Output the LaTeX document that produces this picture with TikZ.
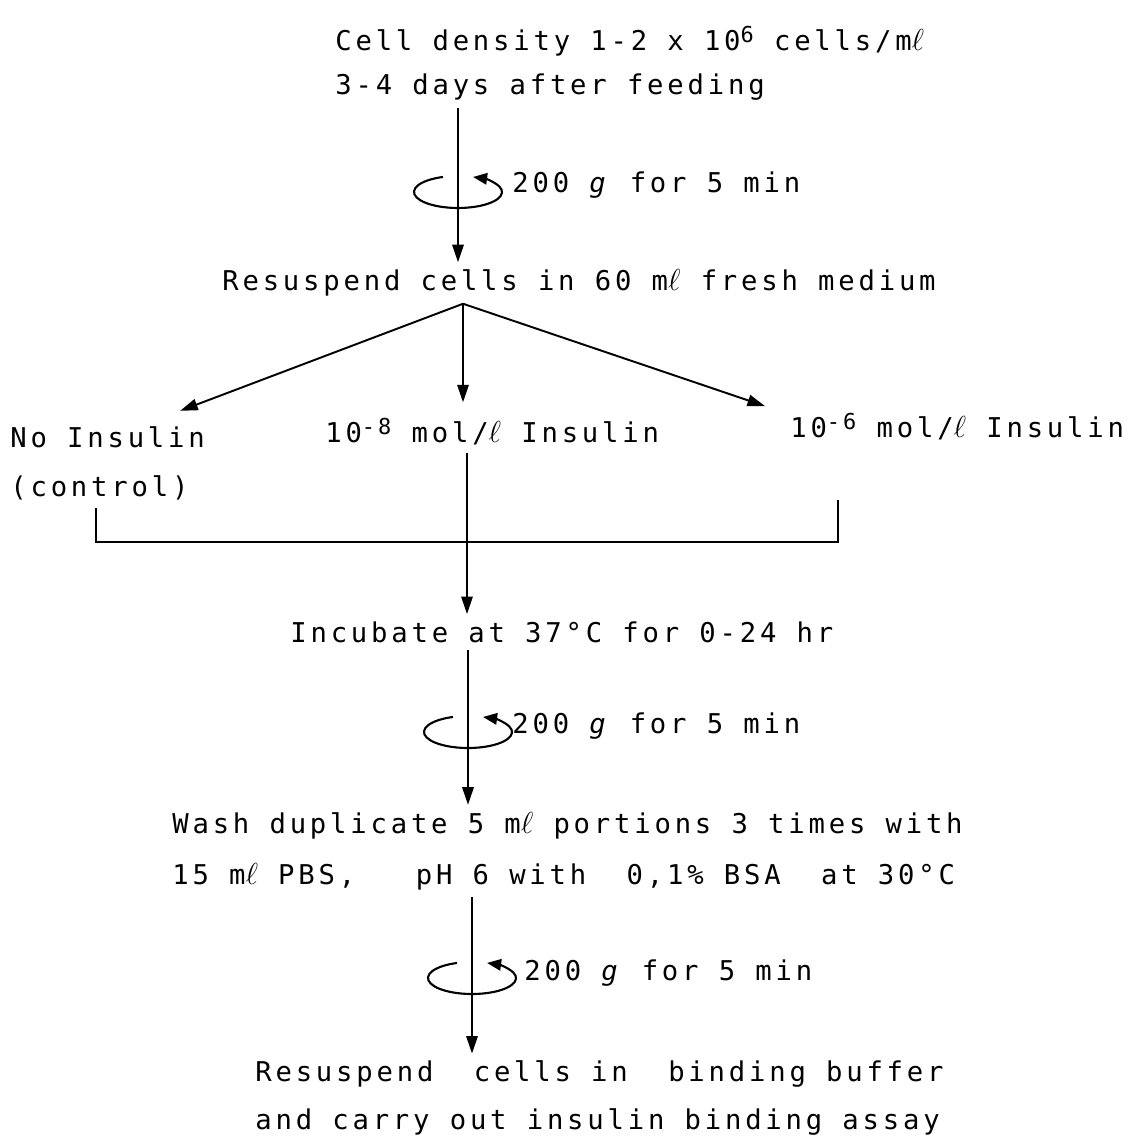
\documentclass[tikz,border=0pt]{standalone}
\usepackage{fontspec}
\newfontfamily\flowfont[LetterSpace=14]{DejaVu Sans Mono}
\newcommand{\lit}{{\fontsize{19}{19}\selectfont$\ell$}}
\newcommand{\hi}[1]{\raisebox{0.55ex}{\fontsize{12.5}{12}\selectfont #1}}
\usetikzlibrary{arrows.meta, positioning, calc}

\begin{document}
\begin{tikzpicture}[x=0.02cm, y=-0.02cm,
    txt/.style={anchor=west, align=left, inner xsep=0pt, inner ysep=4pt, font=\flowfont\fontsize{15.5}{27}\selectfont},
    arr/.style={line width=1.1pt, -{Triangle[length=10pt, width=6.5pt]}},
    rim/.style={line width=1.1pt},
    spin/.pic={\draw[line width=1.2pt, -{Triangle[length=8pt, width=6.5pt]}]
        (250:44 and 16) arc[start angle=250, end angle=-70, x radius=44, y radius=16];}]
    \useasboundingbox (0,0) rectangle (1141,1138);

    % Steps
    \node[txt, font=\flowfont\fontsize{15.5}{25}\selectfont] (cell) at (335,63)
        {Cell density 1-2 x 10\hi{6} cells/m\lit\\3-4 days after feeding};
    \node[txt] (resusp) at (222,283) {Resuspend cells in 60 m\lit{} fresh medium};
    \node[txt, font=\flowfont\fontsize{15.5}{28}\selectfont] (none) at (10,463)
        {No Insulin\\(control)};
    \node[txt] (low) at (325,432) {10\hi{-8} mol/\lit{} Insulin};
    \node[txt] (high) at (790,427) {10\hi{-6} mol/\lit{} Insulin};
    \node[txt] (incub) at (290,632) {Incubate at 37°C for 0-24 hr};
    \node[txt, font=\flowfont\fontsize{15.5}{29}\selectfont] (wash) at (172,851)
        {Wash duplicate 5 m\lit{} portions 3 times with\\15 m\lit{} PBS,~~~pH 6 with~~0,1\% BSA~~at 30°C};
    \node[txt] (assay) at (255,1098)
        {Resuspend~~cells in~~binding buffer\\and carry out insulin binding assay};

    % Centrifugation
    \coordinate (c1) at (458,192);
    \coordinate (c2) at (468,732);
    \coordinate (c3) at (472,978);
    \node[txt] (spin1) at (512,185) {200 \textit{g} for 5 min};
    \node[txt] (spin2) at (512,726) {200 \textit{g} for 5 min};
    \node[txt] (spin3) at (524,973) {200 \textit{g} for 5 min};

    \draw[arr] (cell.south -| c1) -- (resusp.north -| c1);
    \pic at (c1) {spin};

    % Split into three
    \coordinate (apex) at (resusp.south -| 463,0);
    \draw[arr] (apex) -- ($(none.north east)+(-25,-8)$);
    \draw[arr, shorten >=5pt] (apex) -- (apex |- low.north);
    \draw[arr] (apex) -- ($(high.north west)+(-25,0)$);

    % Pool
    \coordinate (bl) at (96,508);
    \coordinate (br) at (838,500);
    \coordinate (jn) at (467,542);
    \draw[rim] (bl) |- (jn) -| (br);
    \draw[arr] (low.south -| jn) -- (incub.north -| jn);

    \draw[arr] (incub.south -| c2) -- (wash.north -| c2);
    \pic at (c2) {spin};

    \draw[arr] (wash.south -| c3) -- (assay.north -| c3);
    \pic at (c3) {spin};
\end{tikzpicture}
\end{document}
